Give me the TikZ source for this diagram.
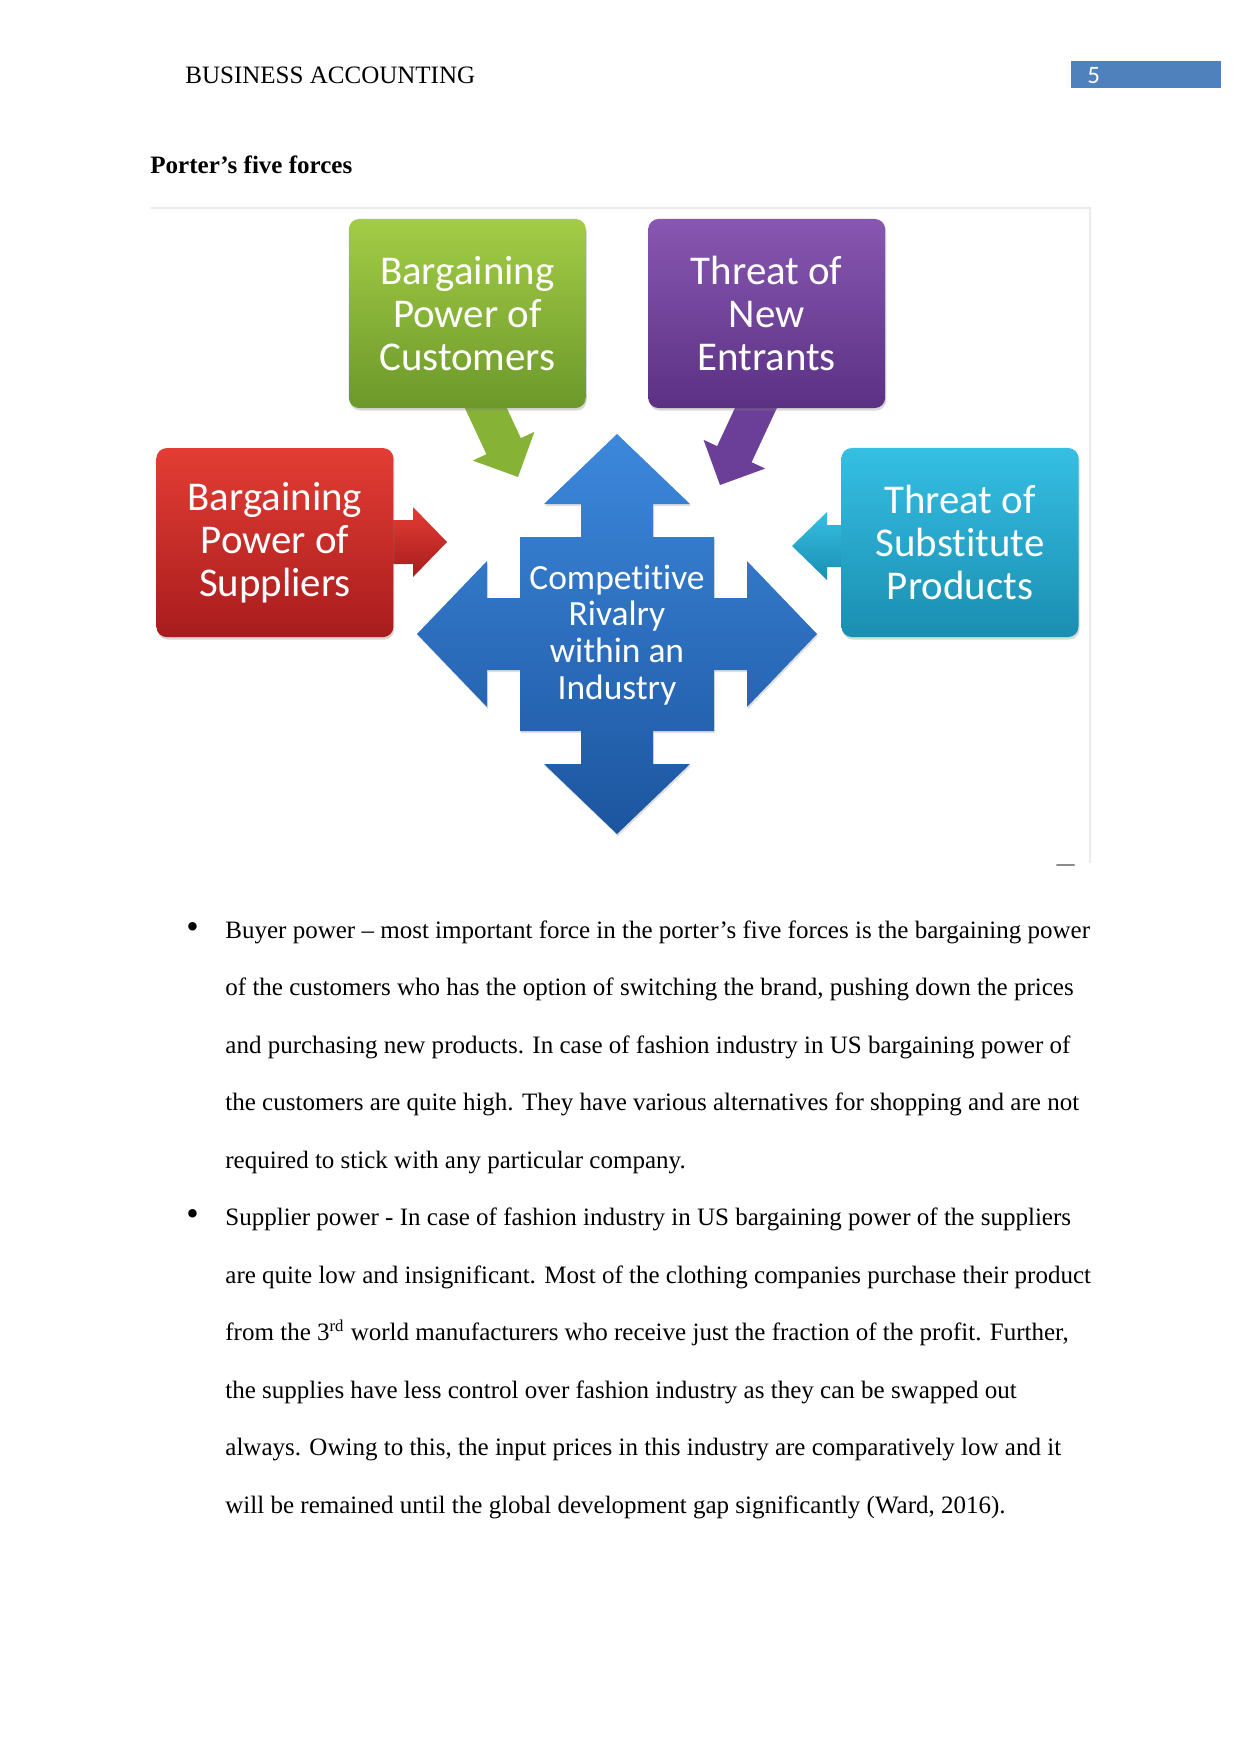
\documentclass[tikz,border=0pt]{standalone}
\usepackage{fontspec}
\setmainfont[Ligatures=CommonOff]{Liberation Serif}
\newfontfamily\carlito[Ligatures=CommonOff]{Carlito}
\usetikzlibrary{shadows}
\definecolor{pgblue}{HTML}{4F81BD}
\definecolor{redtop}{HTML}{E33D34}
\definecolor{redbot}{HTML}{A81C1D}
\definecolor{greentop}{HTML}{A3CD46}
\definecolor{greenbot}{HTML}{6C982A}
\definecolor{purptop}{HTML}{8857B1}
\definecolor{purpbot}{HTML}{5B3184}
\definecolor{cyantop}{HTML}{35BFE3}
\definecolor{cyanbot}{HTML}{1A8EB1}
\definecolor{bluetop}{HTML}{3D88DC}
\definecolor{bluebot}{HTML}{1C559F}
\definecolor{greenarr}{HTML}{86B236}
\definecolor{purparr}{HTML}{6B3F98}
\begin{document}
\begin{tikzpicture}[x=0.4797pt,y=-0.4797pt,
  forcebox/.style={rounded corners=5pt, minimum width=113.7pt, minimum height=90.7pt,
    inner sep=0pt, align=center, text=white,
    font=\carlito\fontsize{19.6}{20.6}\selectfont,
    drop shadow={shadow xshift=0.5pt, shadow yshift=-1.2pt, opacity=0.3}},
  bodyline/.style={anchor=base west, inner sep=0pt, font=\fontsize{12}{14}\selectfont},
  bulletmark/.style={anchor=base, inner sep=0pt, font=\fontsize{17}{18}\selectfont},
]
\useasboundingbox (0,0) rectangle (1241,1754);
\fill[white] (0,0) rectangle (1241,1754);

% header
\node[bodyline] (hdr) at (185,83.3) {BUSINESS ACCOUNTING};
\fill[pgblue] (1071,61) rectangle (1221,88.3);
\node[anchor=base west, inner sep=0pt, text=white, font=\carlito\fontsize{12}{14}\selectfont] (pg) at (1087,83.3) {5};
\node[bodyline, font=\bfseries\fontsize{12}{14}\selectfont] (title) at (150,173.5) {Porter’s five forces};

% faint frame of the figure
\draw[black!8, line width=0.8pt] (151,208.3) -- (1090,208.3) -- (1090,863);
\draw[black!45, line width=1pt, line cap=round] (1057,865) -- (1074,865);

% block arrows (behind the boxes)
\coordinate (rtip) at (447,542);
\coordinate (ctip) at (792,546);
\coordinate (gtip) at (518,477);
\coordinate (ptip) at (720,485);
\begin{scope}[shift={(rtip)}]
  \shade[top color=redtop, bottom color=redbot] (0,0) -- (-34,-35) -- (-34,-22) -- (-70,-22) -- (-70,22) -- (-34,22) -- (-34,35) -- cycle;
\end{scope}
\begin{scope}[shift={(ctip)}, xscale=-1]
  \shade[top color=cyantop, bottom color=cyanbot] (0,0) -- (-35,-34) -- (-35,-21) -- (-70,-21) -- (-70,21) -- (-35,21) -- (-35,34) -- cycle;
\end{scope}
\begin{scope}[shift={(gtip)}, rotate=-65]
  \fill[greenarr] (0,0) -- (-34,-34) -- (-34,-19) -- (-100,-19) -- (-100,19) -- (-34,19) -- (-34,34) -- cycle;
\end{scope}
\begin{scope}[shift={(ptip)}, rotate=-115]
  \fill[purparr] (0,0) -- (-34,-34) -- (-34,-19) -- (-100,-19) -- (-100,19) -- (-34,19) -- (-34,34) -- cycle;
\end{scope}

% force boxes
\node[forcebox, top color=greentop, bottom color=greenbot] (cust) at (467.3,313.5) {Bargaining\\Power of\\Customers};
\node[forcebox, top color=purptop, bottom color=purpbot] (entr) at (766.7,313.5) {Threat of\\New\\Entrants};
\node[forcebox, top color=redtop, bottom color=redbot] (supp) at (274.9,542.6) {Bargaining\\Power of\\Suppliers};
\node[forcebox, top color=cyantop, bottom color=cyanbot] (subs) at (960,542.5) {Threat of\\Substitute\\Products};

% central four-way arrow
\begin{scope}[shift={(617,634)}]
  \shade[top color=bluetop, bottom color=bluebot, drop shadow={shadow xshift=0.5pt, shadow yshift=-1pt, opacity=0.25}]
    (0,-200) -- (73,-130) -- (36,-130) -- (36,-97) -- (97,-97) -- (97,-36) -- (130,-36) -- (130,-73)
    -- (200,0) -- (130,73) -- (130,36) -- (97,36) -- (97,97) -- (36,97) -- (36,130) -- (73,130)
    -- (0,200) -- (-73,130) -- (-36,130) -- (-36,97) -- (-97,97) -- (-97,36) -- (-130,36) -- (-130,73)
    -- (-200,0) -- (-130,-73) -- (-130,-36) -- (-97,-36) -- (-97,-97) -- (-36,-97) -- (-36,-130) -- (-73,-130) -- cycle;
\end{scope}
\node[align=center, text=white, inner sep=0pt, font=\carlito\fontsize{17}{17.6}\selectfont] (rival) at (617,635) {Competitive\\Rivalry\\within an\\Industry};

% body text
\node[bulletmark] (b1) at (192.5,938.3) {•};
\node[bodyline] (l1) at (225,938.3) {Buyer power – most important force in the porter’s five forces is the bargaining power};
\node[bodyline] (l2) at (225,995.8) {of the customers who has the option of switching the brand, pushing down the prices};
\node[bodyline] (l3) at (225,1053.3) {and purchasing new products. In case of fashion industry in US bargaining power of};
\node[bodyline] (l4) at (225,1110.8) {the customers are quite high. They have various alternatives for shopping and are not};
\node[bodyline] (l5) at (225,1168.3) {required to stick with any particular company.};
\node[bulletmark] (b2) at (192.5,1225.8) {•};
\node[bodyline] (l6) at (225,1225.8) {Supplier power - In case of fashion industry in US bargaining power of the suppliers};
\node[bodyline] (l7) at (225,1283.3) {are quite low and insignificant. Most of the clothing companies purchase their product};
\node[bodyline] (l8) at (225,1340.8) {from the 3\textsuperscript{rd} world manufacturers who receive just the fraction of the profit. Further,};
\node[bodyline] (l9) at (225,1398.3) {the supplies have less control over fashion industry as they can be swapped out};
\node[bodyline] (l10) at (225,1455.8) {always. Owing to this, the input prices in this industry are comparatively low and it};
\node[bodyline] (l11) at (225,1513.3) {will be remained until the global development gap significantly (Ward, 2016).};
\end{tikzpicture}
\end{document}
